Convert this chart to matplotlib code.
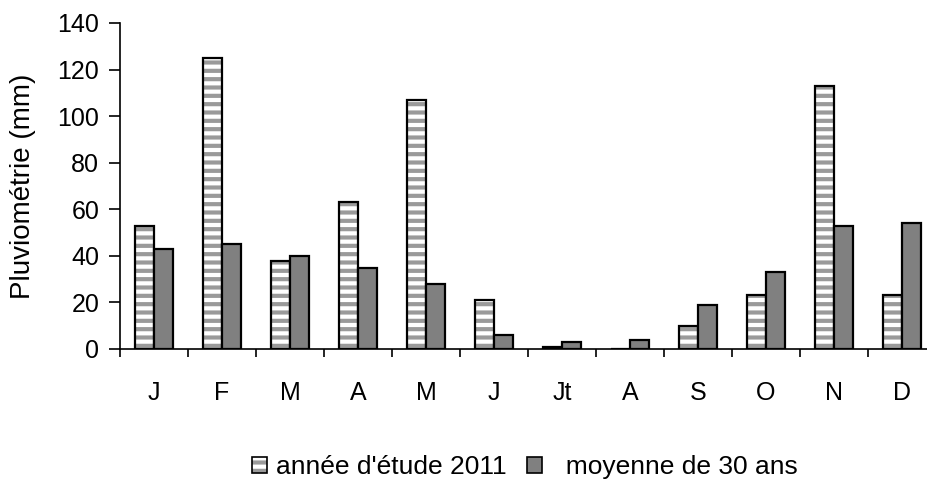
import numpy as np
import matplotlib
matplotlib.use("Agg")
import matplotlib.pyplot as plt
from matplotlib.patches import Patch

plt.rcParams["font.family"] = ["Liberation Sans", "DejaVu Sans"]
plt.rcParams["hatch.linewidth"] = 3.0

mois = ["J", "F", "M", "A", "M", "J", "Jt", "A", "S", "O", "N", "D"]
annee_2011 = [53, 125, 38, 63, 107, 21, 1, 0, 10, 23, 113, 23]
moyenne_30 = [43, 45, 40, 35, 28, 6, 3, 4, 19, 33, 53, 54]

fig = plt.figure(figsize=(9.27, 4.91), dpi=100)
ax = fig.add_axes([120 / 927, 1 - 349 / 491, 816 / 927, 326 / 491])

x = np.arange(len(mois))
w = 0.285

# hatched bars: grey stripes, then a black outline on top
ax.bar(x - w / 2, annee_2011, w, color="white", edgecolor="#9a9a9a", hatch="--", linewidth=0, zorder=2)
ax.bar(x - w / 2, annee_2011, w, fill=False, edgecolor="black", linewidth=1.6, zorder=3)
ax.bar(x + w / 2, moyenne_30, w, color="#808080", edgecolor="black", linewidth=1.6, zorder=3)

ax.set_xlim(-0.5, len(mois) - 0.5)
ax.set_ylim(0, 140)
ax.set_yticks(range(0, 141, 20))
ax.tick_params(axis="y", labelsize=18, direction="out", length=8, width=1.2, pad=7)

ax.set_xticks(x)
ax.set_xticklabels(mois)
ax.set_xticks(np.arange(-0.5, len(mois), 1), minor=True)
ax.tick_params(axis="x", which="major", length=0, labelsize=18, pad=23)
ax.tick_params(axis="x", which="minor", length=6, width=1.2, direction="out")

for s in ["top", "right"]:
    ax.spines[s].set_visible(False)
ax.spines["left"].set_linewidth(1.2)
ax.spines["bottom"].set_linewidth(1.2)

ax.set_ylabel("Pluviométrie (mm)", fontsize=20)
ax.yaxis.set_label_coords(-84 / 816, 0.5)

h1 = Patch(facecolor="white", edgecolor="#9a9a9a", hatch="--", linewidth=0)
h1b = Patch(fill=False, edgecolor="black", linewidth=1.2)
h2 = Patch(facecolor="#808080", edgecolor="black", linewidth=1.2)
fig.legend([(h1, h1b), h2], ["année d'étude 2011", "  moyenne de 30 ans"],
           loc="center", bbox_to_anchor=(525 / 927, 1 - 467 / 491), ncol=2,
           frameon=False, fontsize=19, handlelength=0.57, handleheight=0.57,
           handletextpad=0.34, columnspacing=0.76, borderpad=0, borderaxespad=0)

fig.savefig("out.png", dpi=100)
